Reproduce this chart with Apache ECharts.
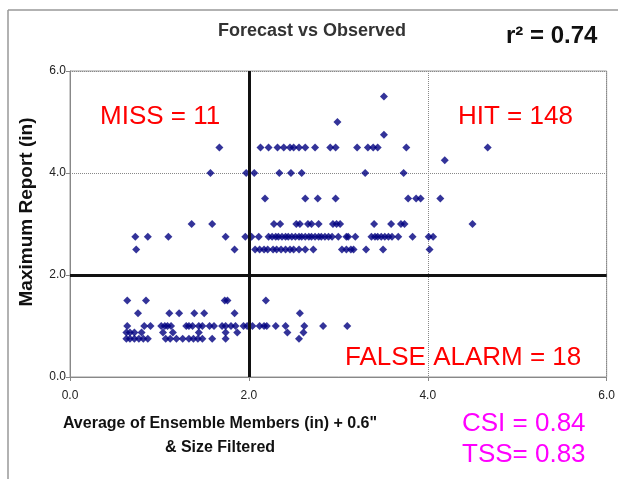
<!DOCTYPE html>
<html lang="en">
	<head>
		<meta charset="UTF-8" />
		<title>Forecast vs Observed</title>
		<style>
			html, body { margin: 0; padding: 0; background: #fff; }
		</style>
	</head>
	<body>
		<div id="main" style="width: 618px; height: 479px"></div>
		<script src="https://cdn.jsdelivr.net/npm/echarts@6/dist/echarts.min.js"></script>
		<script>
			// tick labels on both axes
			var tickLabels = ["0.0", "2.0", "4.0", "6.0"];

			// observed report levels (in) and the forecast values (in) found on each level
			var reportLevels = [5.5, 5.0, 4.75, 4.5, 4.25, 4.0, 3.5, 3.0, 2.75, 2.5, 1.5, 1.25, 1.0, 0.875, 0.75];
			var fc550 = [3.51];
			var fc500 = [2.99];
			var fc475 = [3.51];
			var fc450 = [1.67, 2.13, 2.22, 2.32, 2.39, 2.46, 2.5, 2.56, 2.63, 2.74, 2.91, 2.97, 3.21, 3.33, 3.39, 3.44, 3.76, 4.67];
			var fc425 = [4.19];
			var fc400 = [1.57, 1.97, 2.06, 2.34, 2.47, 2.59, 3.3, 3.73];
			var fc350 = [2.18, 2.63, 2.77, 2.97, 3.78, 3.87, 3.92, 4.14];
			var fc300 = [1.36, 1.59, 2.28, 2.35, 2.53, 2.57, 2.66, 2.7, 2.78, 2.94, 2.98, 3.02, 3.4, 3.59, 3.7, 3.74, 4.5];
			var fc275 = [0.73, 0.87, 1.1, 1.74, 1.96, 2.03, 2.11, 2.22, 2.26, 2.3, 2.33, 2.37, 2.41, 2.44, 2.48, 2.52, 2.56, 2.59, 2.63, 2.67, 2.7, 2.74, 2.78, 2.81, 2.85, 2.89, 2.93, 3.0, 3.09, 3.11, 3.19, 3.37, 3.41, 3.44, 3.48, 3.52, 3.56, 3.6, 3.67, 3.83, 4.01, 4.06];
			var fc250 = [0.74, 1.84, 2.07, 2.12, 2.17, 2.21, 2.27, 2.31, 2.36, 2.41, 2.46, 2.5, 2.56, 2.63, 2.72, 3.04, 3.09, 3.14, 3.17, 3.31, 3.5, 4.02];
			var fc150 = [0.64, 0.85, 1.73, 1.76, 2.19];
			var fc125 = [0.76, 1.11, 1.22, 1.39, 1.5, 1.84, 2.57];
			var fc100 = [0.64, 0.83, 0.9, 1.02, 1.06, 1.09, 1.13, 1.3, 1.33, 1.37, 1.44, 1.48, 1.56, 1.61, 1.7, 1.74, 1.8, 1.85, 1.94, 1.98, 2.04, 2.12, 2.17, 2.2, 2.3, 2.41, 2.62, 2.83, 3.1];
			var fc0875 = [0.63, 0.67, 0.72, 0.8, 1.04, 1.15, 1.44, 1.74, 1.87, 2.43, 2.61];
			var fc075 = [0.63, 0.67, 0.72, 0.77, 0.82, 0.87, 1.07, 1.12, 1.19, 1.26, 1.33, 1.38, 1.43, 1.48, 1.59, 1.74, 2.56];

			var forecastsByLevel = [fc550, fc500, fc475, fc450, fc425, fc400, fc350, fc300, fc275, fc250, fc150, fc125, fc100, fc0875, fc075];

			// pairs for the scatter series
			var points = [];
			forecastsByLevel.forEach(function (xs, i) {
				xs.forEach(function (x) {
					points.push([x, reportLevels[i]]);
				});
			});

			var myChart = echarts.init(document.getElementById("main"));

			var axisLabel = {
				color: "#222",
				fontFamily: "Liberation Sans, Arial",
				fontSize: 12,
				formatter: function (v) {
					return tickLabels[v / 2];
				},
			};

			var option = {
				animation: false,
				backgroundColor: "#fff",
				grid: {
					left: 70,
					right: 8,
					top: 71,
					bottom: 102,
					show: true,
					borderColor: "#999",
					borderWidth: 1,
				},
				xAxis: {
					type: "value",
					min: 0,
					max: 6,
					interval: 2,
					axisLine: { lineStyle: { color: "#888" } },
					axisTick: { show: true, length: 4, lineStyle: { color: "#888" } },
					axisLabel: Object.assign({ margin: 13 }, axisLabel),
					splitLine: { lineStyle: { type: "dotted", color: "#888", width: 1 } },
				},
				yAxis: {
					type: "value",
					min: 0,
					max: 6,
					interval: 2,
					axisLine: { show: true, lineStyle: { color: "#888" } },
					axisTick: { show: true, length: 4, lineStyle: { color: "#888" } },
					axisLabel: Object.assign({ margin: 4 }, axisLabel),
					splitLine: { lineStyle: { type: "dotted", color: "#888", width: 1 } },
				},
				series: [
					{
						type: "scatter",
						data: points,
						symbol: "diamond",
						symbolSize: 8,
						itemStyle: { color: "#000080" },
						markLine: {
							silent: true,
							symbol: "none",
							label: { show: false },
							lineStyle: { color: "#111", width: 3, type: "solid" },
							data: [{ xAxis: 2 }, { yAxis: 2 }],
						},
					},
				],
				graphic: [
					{ type: "line", shape: { x1: 8, y1: 10, x2: 618, y2: 10 }, style: { stroke: "#999", lineWidth: 1.5 } },
					{ type: "line", shape: { x1: 8, y1: 10, x2: 8, y2: 479 }, style: { stroke: "#999", lineWidth: 1.5 } },
					{
						type: "text",
						x: 312,
						y: 31,
						style: { text: "Forecast vs Observed", fill: "#333", font: "bold 18px Liberation Sans, Arial", textAlign: "center", textVerticalAlign: "middle" },
					},
					{
						type: "text",
						x: 506,
						y: 36,
						style: { text: "r² = 0.74", fill: "#111", font: "bold 24px Liberation Sans, Arial", textAlign: "left", textVerticalAlign: "middle" },
					},
					{
						type: "text",
						x: 27,
						y: 212,
						rotation: Math.PI / 2,
						style: { text: "Maximum Report (in)", fill: "#111", font: "bold 19px Liberation Sans, Arial", textAlign: "center", textVerticalAlign: "middle" },
					},
					{
						type: "text",
						x: 220,
						y: 424,
						style: { text: "Average of Ensemble Members (in) + 0.6\"", fill: "#111", font: "bold 16px Liberation Sans, Arial", textAlign: "center", textVerticalAlign: "middle" },
					},
					{
						type: "text",
						x: 220,
						y: 448,
						style: { text: "& Size Filtered", fill: "#111", font: "bold 16px Liberation Sans, Arial", textAlign: "center", textVerticalAlign: "middle" },
					},
					{
						type: "text",
						x: 100,
						y: 117,
						style: { text: "MISS = 11", fill: "#ff0000", font: "26px Liberation Sans, Arial", textAlign: "left", textVerticalAlign: "middle" },
					},
					{
						type: "text",
						x: 458,
						y: 117,
						style: { text: "HIT = 148", fill: "#ff0000", font: "26px Liberation Sans, Arial", textAlign: "left", textVerticalAlign: "middle" },
					},
					{
						type: "text",
						x: 345,
						y: 358,
						style: { text: "FALSE ALARM = 18", fill: "#ff0000", font: "26px Liberation Sans, Arial", textAlign: "left", textVerticalAlign: "middle" },
					},
					{
						type: "text",
						x: 462,
						y: 424,
						style: { text: "CSI = 0.84", fill: "#ff00ff", font: "26px Liberation Sans, Arial", textAlign: "left", textVerticalAlign: "middle" },
					},
					{
						type: "text",
						x: 462,
						y: 455,
						style: { text: "TSS= 0.83", fill: "#ff00ff", font: "26px Liberation Sans, Arial", textAlign: "left", textVerticalAlign: "middle" },
					},
				],
			};

			myChart.setOption(option);
		</script>
	</body>
</html>
